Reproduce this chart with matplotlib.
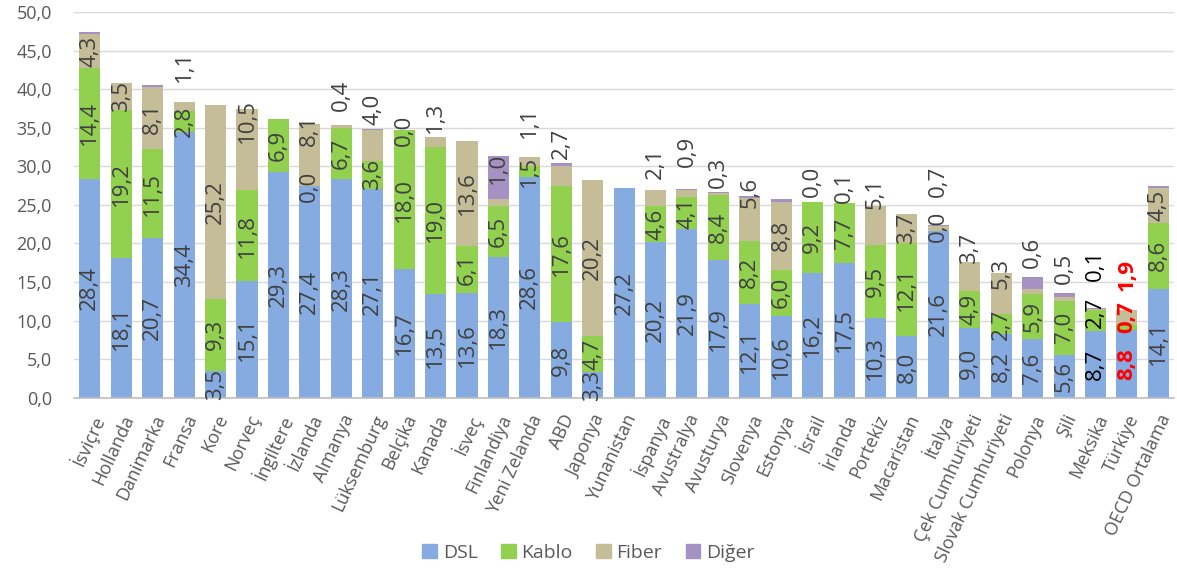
import numpy as np
import matplotlib.pyplot as plt
from matplotlib.patches import Patch

plt.rcParams['font.family'] = ['Open Sans', 'DejaVu Sans']

countries = ['İsviçre', 'Hollanda', 'Danimarka', 'Fransa', 'Kore', 'Norveç',
             'İngiltere', 'İzlanda', 'Almanya', 'Lüksemburg', 'Belçika',
             'Kanada', 'İsveç', 'Finlandiya', 'Yeni Zelanda', 'ABD', 'Japonya',
             'Yunanistan', 'İspanya', 'Avustralya', 'Avusturya', 'Slovenya',
             'Estonya', 'İsrail', 'İrlanda', 'Portekiz', 'Macaristan', 'İtalya',
             'Çek Cumhuriyeti', 'Slovak Cumhuriyeti', 'Polonya', 'Şili',
             'Meksika', 'Türkiye', 'OECD Ortalama']

# None = segment yok / etiket yok
dsl = [28.4, 18.1, 20.7, 34.4, 3.5, 15.1, 29.3, 27.4, 28.3, 27.1, 16.7, 13.5,
       13.6, 18.3, 28.6, 9.8, 3.3, 27.2, 20.2, 21.9, 17.9, 12.1, 10.6, 16.2,
       17.5, 10.3, 8.0, 21.6, 9.0, 8.2, 7.6, 5.6, 8.7, 8.8, 14.1]
kablo = [14.4, 19.2, 11.5, 2.8, 9.3, 11.8, 6.9, 0.0, 6.7, 3.6, 18.0, 19.0,
         6.1, 6.5, 1.5, 17.6, 4.7, None, 4.6, 4.1, 8.4, 8.2, 6.0, 9.2,
         7.7, 9.5, 12.1, 0.0, 4.9, 2.7, 5.9, 7.0, 2.7, 0.7, 8.6]
fiber = [4.3, 3.5, 8.1, 1.1, 25.2, 10.5, None, 8.1, 0.4, 4.0, 0.0, 1.3,
         13.6, 1.0, 1.1, 2.7, 20.2, None, 2.1, 0.9, 0.3, 5.6, 8.8, 0.0,
         0.1, 5.1, 3.7, 0.7, 3.7, 5.3, 0.6, 0.5, 0.1, 1.9, 4.5]
diger = [0.3, 0.0, 0.3, 0.0, 0.0, 0.0, 0.0, 0.0, 0.0, 0.2, 0.0, 0.0,
         0.0, 5.6, 0.0, 0.3, 0.0, 0.0, 0.0, 0.1, 0.1, 0.2, 0.4, 0.0,
         0.0, 0.0, 0.0, 0.1, 0.0, 0.0, 1.6, 0.5, 0.1, 0.0, 0.2]

series = ['DSL', 'Kablo', 'Fiber', 'Diğer']
colors = ['#86ABE0', '#92D050', '#C4BD97', '#A692C2']

# etiketleri elle kaydırılmış olanlar (veri birimi, etiket merkezi)
label_y = {
    ('Fransa', 2): 42.9, ('Norveç', 2): 35.9, ('İzlanda', 2): 34.6,
    ('Almanya', 2): 39.2, ('Lüksemburg', 2): 37.4, ('Kanada', 2): 36.3,
    ('Finlandiya', 2): 29.7, ('Yeni Zelanda', 2): 35.7, ('ABD', 2): 33.0,
    ('İspanya', 2): 30.4, ('Avustralya', 2): 32.0, ('Avusturya', 2): 29.2,
    ('Slovenya', 2): 26.6, ('İsrail', 2): 28.1, ('İrlanda', 2): 27.3,
    ('Portekiz', 2): 26.5, ('İtalya', 2): 28.0, ('Çek Cumhuriyeti', 2): 19.4,
    ('Slovak Cumhuriyeti', 2): 16.1, ('Polonya', 2): 18.9, ('Şili', 2): 16.8,
    ('Meksika', 2): 17.2, ('Türkiye', 2): 15.9,
    ('Meksika', 1): 11.1, ('Türkiye', 1): 10.45, ('İtalya', 1): 22.2,
}

fig = plt.figure(figsize=(11.77, 5.76), dpi=100)
ax = fig.add_axes([0.063, 0.3095, 0.9345, 0.6695])

x = np.arange(len(countries))
data = [dsl, kablo, fiber, diger]
bottom = np.zeros(len(countries))
for k, vals in enumerate(data):
    v = np.array([0.0 if a is None else a for a in vals])
    ax.bar(x, v, 0.67, bottom=bottom, color=colors[k], zorder=2)
    if k < 3:
        for i, a in enumerate(vals):
            if a is None:
                continue
            name = countries[i]
            yc = label_y.get((name, k), bottom[i] + a / 2)
            col, fw = '#404040', 'normal'
            if name == 'Meksika':
                col = 'black'
            if name == 'Türkiye':
                col, fw = 'red', 'bold'
            ax.text(i, yc, f'{a:.1f}'.replace('.', ','), rotation=90,
                    ha='center', va='center', fontsize=16, color=col,
                    fontweight=fw, zorder=3)
    bottom += v

ax.set_xlim(-0.5, len(countries) - 0.5)
ax.set_ylim(0, 50)
ax.set_yticks(np.arange(0, 51, 5))
ax.set_yticklabels([f'{t:.1f}'.replace('.', ',') for t in np.arange(0, 51, 5)],
                   fontsize=13, color='#595959')
ax.set_xticks(x)
ax.set_xticklabels(countries, rotation=65, ha='right', va='top',
                   rotation_mode='anchor', fontsize=13, color='#595959')
ax.tick_params(axis='both', length=0)
ax.tick_params(axis='y', pad=16)
ax.tick_params(axis='x', pad=10)
ax.grid(axis='y', color='#D9D9D9', linewidth=1, zorder=0)
ax.set_axisbelow(True)
for s in ['top', 'right', 'left']:
    ax.spines[s].set_visible(False)
ax.spines['bottom'].set_color('#BFBFBF')
ax.spines['bottom'].set_linewidth(1.2)

handles = [Patch(color=c, label=s) for s, c in zip(series, colors)]
fig.legend(handles=handles, loc='center', bbox_to_anchor=(0.5, 0.04), ncol=4,
           frameon=False, fontsize=14, handlelength=0.75, handleheight=0.75,
           handletextpad=0.3, columnspacing=1.2, labelcolor='#595959')

fig.savefig('out.png', dpi=100)
